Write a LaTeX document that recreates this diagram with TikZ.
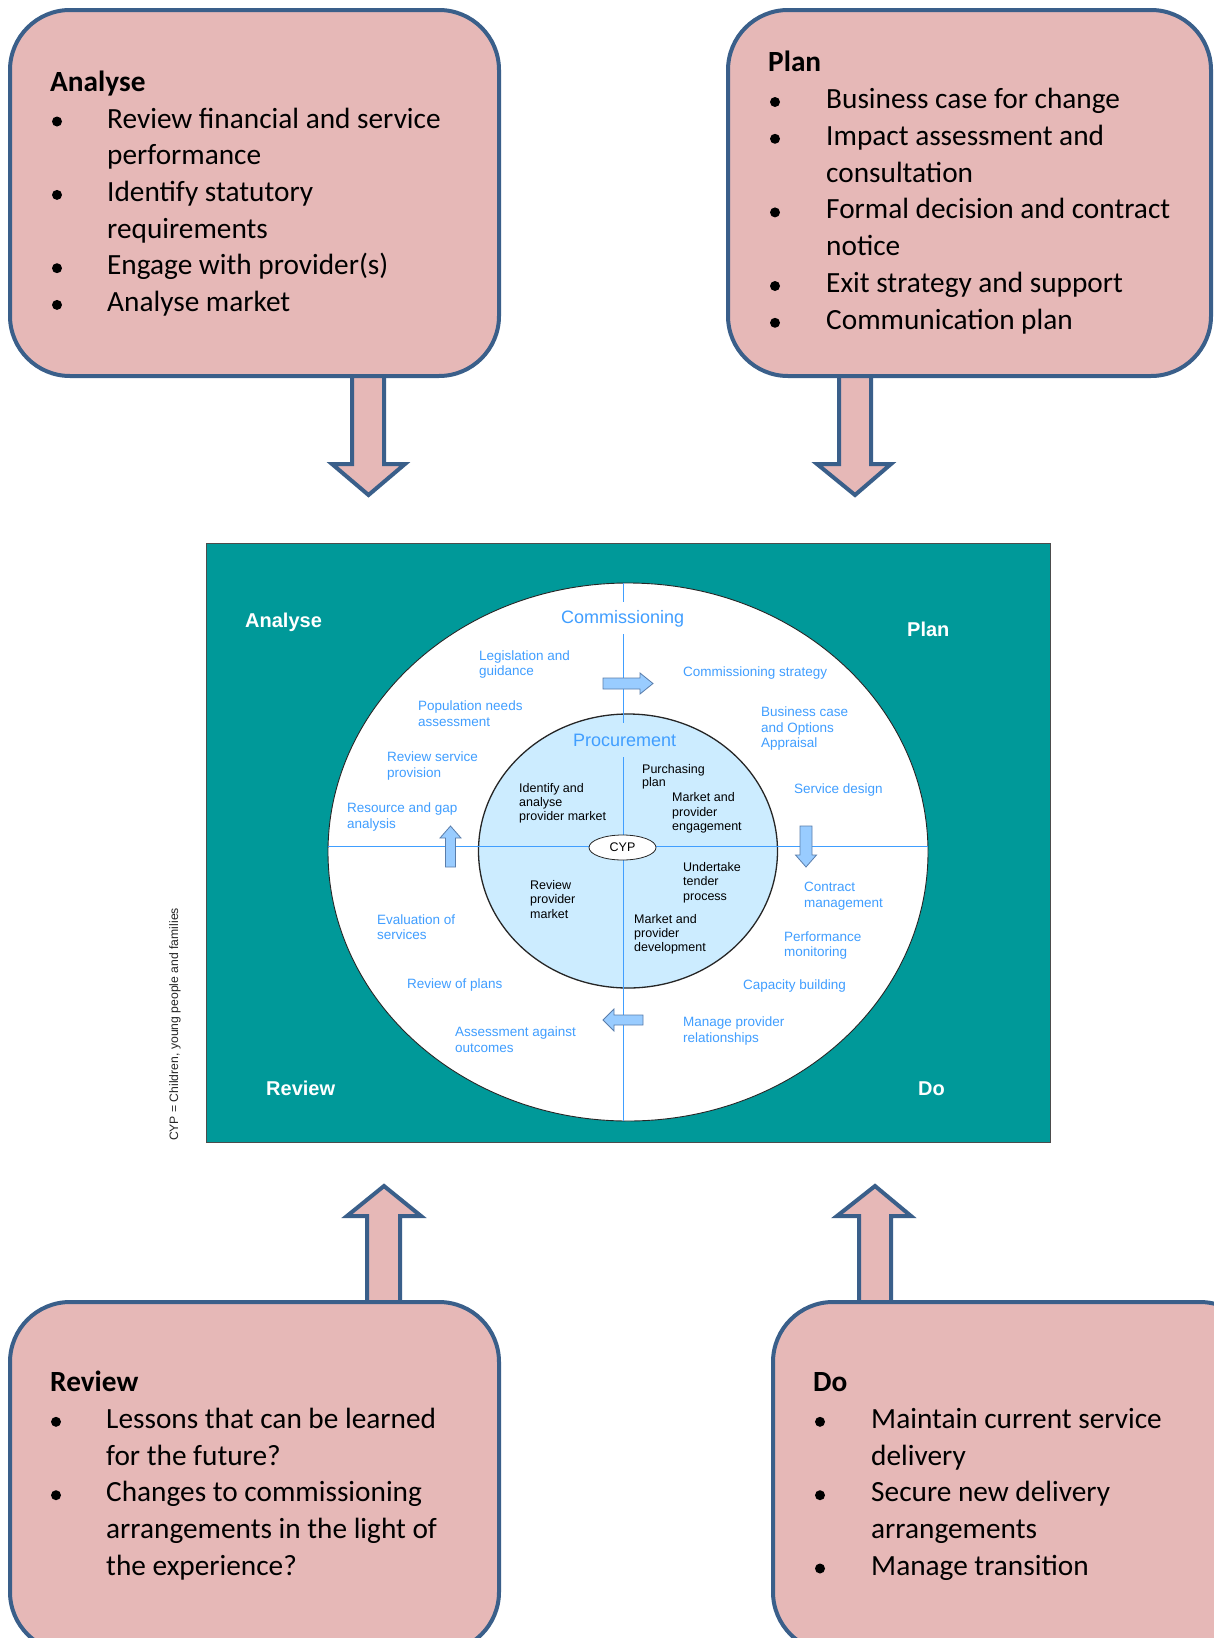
\documentclass[tikz,border=0pt]{standalone}
\usepackage{fontspec}
\setmainfont{Carlito}
\newfontfamily\arialf{Liberation Sans}
\usetikzlibrary{shapes.geometric}
\definecolor{boxpink}{RGB}{230,184,183}
\definecolor{boxblue}{RGB}{58,95,138}
\definecolor{tealbg}{RGB}{0,153,153}
\definecolor{labblue}{RGB}{64,158,255}
\definecolor{innerblue}{RGB}{204,236,255}
\definecolor{arrowfill}{RGB}{153,204,255}
\definecolor{arrowdraw}{RGB}{90,125,170}
\newcommand\mlab[6]{\foreach \t [count=\k from 0] in {#6} {\node[#2] (#1\k) at (#3,{#4+\k*#5}) {\t};}}
\begin{document}
\begin{tikzpicture}[x=1pt,y=-1pt,
  pinkbox/.style={draw=boxblue, line width=4pt, fill=boxpink, rounded corners=60pt},
  bigarrow/.style={draw=boxblue, line width=4pt, fill=boxpink, line join=miter},
  btxt/.style={anchor=base west, inner sep=0pt, font=\fontsize{29.3}{35}\selectfont},
  bhead/.style={anchor=base west, inner sep=0pt, font=\fontsize{29.3}{35}\selectfont\bfseries},
  lab/.style={anchor=base west, inner sep=0pt, text=labblue, font=\arialf\fontsize{13.5}{15}\selectfont},
  blab/.style={anchor=base west, inner sep=0pt, text=black, font=\arialf\fontsize{12.5}{14}\selectfont},
  ring/.style={anchor=base west, inner sep=0pt, text=labblue, font=\arialf\fontsize{18}{20}\selectfont},
  quad/.style={anchor=base west, inner sep=0pt, text=white, font=\arialf\bfseries\fontsize{20}{22}\selectfont},
  smallarrow/.style={fill=arrowfill, draw=arrowdraw, line width=0.8pt, line join=miter},
  axis/.style={draw=labblue, line width=0.7pt}]
\useasboundingbox (0,0) rectangle (1214,1638);
\fill[white] (0,0) rectangle (1214,1638);

% ---------- big block arrows (behind boxes) ----------
\draw[bigarrow] (352,370) -- (384,370) -- (384,464) -- (405,464) -- (368.5,495) -- (332,464) -- (352,464) -- cycle;
\draw[bigarrow] (839,370) -- (871,370) -- (871,464) -- (891,464) -- (855,495) -- (817,464) -- (839,464) -- cycle;
\draw[bigarrow] (367,1310) -- (367,1216) -- (347,1216) -- (384,1186) -- (421,1216) -- (400,1216) -- (400,1310) -- cycle;
\draw[bigarrow] (859,1310) -- (859,1216) -- (837,1216) -- (875,1186) -- (911,1216) -- (891,1216) -- (891,1310) -- cycle;

% ---------- pink boxes ----------
\draw[pinkbox] (10,10) rectangle (499,376);
\draw[pinkbox] (728,10) rectangle (1211,376);
\draw[pinkbox] (10,1302) rectangle (499,1652);
\draw[pinkbox] (773,1302) rectangle (1260,1652);

% Analyse box text
\node[bhead] (ah) at (50,91.5) {Analyse};
\node[btxt] (a1) at (107,128) {Review financial and service};
\node[btxt] (a2) at (107,164.7) {performance};
\node[btxt] (a3) at (107,201.4) {Identify statutory};
\node[btxt] (a4) at (107,238) {requirements};
\node[btxt] (a5) at (107,274.7) {Engage with provider(s)};
\node[btxt] (a6) at (107,311.4) {Analyse market};
\foreach \yy in {128,201.4,274.7,311.4} \fill (57,{\yy-6.5}) circle (5pt);

% Plan box text
\node[bhead] (ph) at (768,71.7) {Plan};
\node[btxt] (p1) at (826,108.5) {Business case for change};
\node[btxt] (p2) at (826,145.3) {Impact assessment and};
\node[btxt] (p3) at (826,182.1) {consultation};
\node[btxt] (p4) at (826,218.9) {Formal decision and contract};
\node[btxt] (p5) at (826,255.7) {notice};
\node[btxt] (p6) at (826,292.5) {Exit strategy and support};
\node[btxt] (p7) at (826,329.3) {Communication plan};
\foreach \yy in {108.5,145.3,218.9,292.5,329.3} \fill (775,{\yy-6.5}) circle (5pt);

% Review box text
\node[bhead] (rh) at (50,1391.7) {Review};
\node[btxt] (r1) at (106,1428.3) {Lessons that can be learned};
\node[btxt] (r2) at (106,1465) {for the future?};
\node[btxt] (r3) at (106,1501.7) {Changes to commissioning};
\node[btxt] (r4) at (106,1538.3) {arrangements in the light of};
\node[btxt] (r5) at (106,1575) {the experience?};
\foreach \yy in {1428.3,1501.7} \fill (56,{\yy-6.5}) circle (5pt);

% Do box text
\node[bhead] (dh) at (813,1391.7) {Do};
\node[btxt] (d1) at (871,1428.3) {Maintain current service};
\node[btxt] (d2) at (871,1465) {delivery};
\node[btxt] (d3) at (871,1501.7) {Secure new delivery};
\node[btxt] (d4) at (871,1538.3) {arrangements};
\node[btxt] (d5) at (871,1575) {Manage transition};
\foreach \yy in {1428.3,1501.7,1575} \fill (820,{\yy-6.5}) circle (5pt);

% ---------- central diagram ----------
\draw[fill=tealbg, draw=black!70, line width=1pt] (206,543) rectangle (1050,1142);
\draw[fill=white, draw=black!85, line width=0.9pt] (628,852) ellipse [x radius=300pt, y radius=269pt];
\draw[fill=innerblue, draw=black!85, line width=1.3pt] (628,851) ellipse [x radius=149.5pt, y radius=137pt];

% axes
\draw[axis] (328.1,846) -- (927.9,846);
\draw[axis] (623,583.1) -- (623,602);
\draw[axis] (623,634) -- (623,723);
\draw[axis] (623,757) -- (623,1120.9);

\node[ellipse, draw=black!85, fill=white, line width=0.8pt, inner sep=0pt, minimum width=67pt, minimum height=25pt,
      font=\arialf\fontsize{12.5}{14}\selectfont] (cyp) at (622.5,847.5) {CYP};

% ring headings
\node[ring] (comm) at (561,623) {Commissioning};
\node[ring] (proc) at (573,746) {Procurement};

% quadrant labels
\node[quad] (qa) at (245,627) {Analyse};
\node[quad] (qp) at (907,636) {Plan};
\node[quad] (qr) at (266,1095) {Review};
\node[quad] (qd) at (918,1095) {Do};

% blue (commissioning) labels
\mlab{leg}{lab}{479}{660}{15.3}{{Legislation and},{guidance}}
\mlab{pop}{lab}{418}{710.7}{15.3}{{Population needs},{assessment}}
\mlab{rsp}{lab}{387}{761.7}{15.3}{{Review service},{provision}}
\mlab{rga}{lab}{347}{812.7}{15.3}{{Resource and gap},{analysis}}
\mlab{cst}{lab}{683}{676.7}{15.3}{{Commissioning strategy}}
\mlab{bca}{lab}{761}{716.7}{15.3}{{Business case},{and Options},{Appraisal}}
\mlab{sde}{lab}{794}{793.3}{15.3}{{Service design}}
\mlab{con}{lab}{804}{891.7}{15.3}{{Contract},{management}}
\mlab{per}{lab}{784}{941}{15.3}{{Performance},{monitoring}}
\mlab{cap}{lab}{743}{989}{15.3}{{Capacity building}}
\mlab{mpr}{lab}{683}{1026.7}{15.3}{{Manage provider},{relationships}}
\mlab{eva}{lab}{377}{924}{15.3}{{Evaluation of},{services}}
\mlab{rop}{lab}{407}{988.3}{15.3}{{Review of plans}}
\mlab{aao}{lab}{455}{1036.7}{15.3}{{Assessment against},{outcomes}}

% black (procurement) labels
\mlab{ida}{blab}{519}{792.3}{14.3}{{Identify and},{analyse},{provider market}}
\mlab{pur}{blab}{642}{773.3}{13.4}{{Purchasing},{plan}}
\mlab{mpe}{blab}{672}{801.7}{14.5}{{Market and},{provider},{engagement}}
\mlab{und}{blab}{683}{871.7}{14.2}{{Undertake},{tender},{process}}
\mlab{mpd}{blab}{634}{923.3}{14.2}{{Market and},{provider},{development}}
\mlab{rpm}{blab}{530}{889.3}{14.5}{{Review},{provider},{market}}

% small cycle arrows
\draw[smallarrow] (603,678) -- (640,678) -- (640,673) -- (653,683.5) -- (640,694) -- (640,689) -- (603,689) -- cycle;
\draw[smallarrow] (800,826) -- (812,826) -- (812,855) -- (816.5,855) -- (806,867) -- (795.5,855) -- (800,855) -- cycle;
\draw[smallarrow] (643,1015) -- (614,1015) -- (614,1009) -- (603,1020) -- (614,1031) -- (614,1025) -- (643,1025) -- cycle;
\draw[smallarrow] (445.5,867) -- (445.5,838) -- (440,838) -- (450.5,826) -- (461,838) -- (455.5,838) -- (455.5,867) -- cycle;

% side note
\node[rotate=90, inner sep=0pt, text=black!85, font=\arialf\fontsize{12.2}{14}\selectfont] (note) at (175,1024.5) {CYP = Children, young people and families};
\end{tikzpicture}
\end{document}
